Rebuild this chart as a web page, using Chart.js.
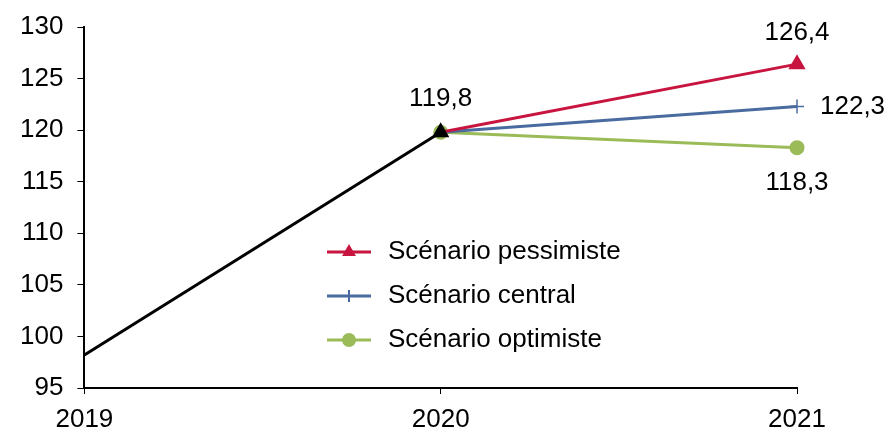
<!DOCTYPE html>
<html>
<head>
<meta charset="utf-8">
<script src="https://cdn.jsdelivr.net/npm/chart.js@4.4.0/dist/chart.umd.min.js"></script>
<style>
  html, body { margin: 0; padding: 0; background: #fff; }
  #wrap { width: 888px; height: 429px; }
</style>
</head>
<body>
<div id="wrap"><canvas id="chart" width="888" height="429"></canvas></div>
<script>
// données
const annees = ['2019', '2020', '2021'];
const historique = [98.2, 119.8, null];
const pessimiste = [null, 119.8, 126.4];
const central = [null, 119.8, 122.3];
const optimiste = [null, 119.8, 118.3];
const etiquettes = ['Scénario pessimiste', 'Scénario central', 'Scénario optimiste'];

const FONT = 'Liberation Sans, Arial, sans-serif';
const FSIZE = 26;
const RED = '#C8153F', BLUE = '#4A6BA0', GREEN = '#9BBB59';

// étiquettes de valeurs : [dataset, index, dx, dy, align]
const labelPos = [
  [0, 1, 0, -33, 'center'],
  [1, 2, 0, -31, 'center'],
  [2, 2, 23, 0, 'left'],
  [3, 2, 0, 35, 'center'],
];

const valueLabels = {
  id: 'valueLabels',
  afterDatasetsDraw(chart) {
    const ctx = chart.ctx;
    ctx.save();
    ctx.font = FSIZE + 'px ' + FONT;
    ctx.fillStyle = '#000';
    ctx.textBaseline = 'middle';
    for (const [d, i, dx, dy, align] of labelPos) {
      const pt = chart.getDatasetMeta(d).data[i];
      const v = chart.data.datasets[d].data[i];
      ctx.textAlign = align;
      ctx.fillText(String(v).replace('.', ','), pt.x + dx, pt.y + dy);
    }
    ctx.restore();
  }
};

const innerLegend = {
  id: 'innerLegend',
  afterDraw(chart) {
    const ctx = chart.ctx;
    ctx.save();
    ctx.font = FSIZE + 'px ' + FONT;
    ctx.textBaseline = 'middle';
    [1, 2, 3].forEach((d, k) => {
      const ds = chart.data.datasets[d];
      const y = 252 + k * 44;
      ctx.strokeStyle = ds.borderColor;
      ctx.lineWidth = 3;
      ctx.beginPath();
      ctx.moveTo(327, y);
      ctx.lineTo(371, y);
      ctx.stroke();
      ctx.fillStyle = ds.borderColor;
      ctx.strokeStyle = ds.borderColor;
      ctx.lineWidth = 2;
      Chart.helpers.drawPoint(ctx, { pointStyle: ds.pointStyle, radius: 6, borderWidth: 2, rotation: 0 }, 349, y);
      ctx.fillStyle = '#000';
      ctx.textAlign = 'left';
      ctx.fillText(ds.label, 388, y);
    });
    ctx.restore();
  }
};

new Chart(document.getElementById('chart'), {
  type: 'line',
  data: {
    labels: annees,
    datasets: [
      { label: 'Historique', data: historique, borderColor: '#000', backgroundColor: '#000',
        borderWidth: 3, pointStyle: 'triangle', pointRadius: [0, 7, 0], tension: 0 },
      { label: etiquettes[0], data: pessimiste, borderColor: RED, backgroundColor: RED,
        borderWidth: 3, pointStyle: 'triangle', pointRadius: [0, 0, 7], tension: 0 },
      { label: etiquettes[1], data: central, borderColor: BLUE, backgroundColor: BLUE,
        borderWidth: 3, pointStyle: 'cross', pointRadius: [0, 0, 7], pointBorderWidth: 1.5, tension: 0 },
      { label: etiquettes[2], data: optimiste, borderColor: GREEN, backgroundColor: GREEN,
        borderWidth: 3, pointStyle: 'circle', pointRadius: [0, 6, 6], tension: 0 },
    ]
  },
  options: {
    responsive: false,
    animation: false,
    devicePixelRatio: 1,
    layout: { padding: { top: 0, right: 91, left: 6, bottom: 0 } },
    plugins: { legend: { display: false }, tooltip: { enabled: false } },
    scales: {
      x: {
        offset: false,
        afterFit: s => { s.height = 41; },
        grid: { drawOnChartArea: false, drawTicks: true, tickLength: 6, color: '#000' },
        border: { display: true, color: '#000', width: 2 },
        ticks: { color: '#000', font: { family: FONT, size: FSIZE }, padding: 10, maxRotation: 0 }
      },
      y: {
        min: 95, max: 130,
        grid: { drawOnChartArea: false, drawTicks: true, tickLength: 7, color: '#000' },
        border: { display: true, color: '#000', width: 2 },
        ticks: { stepSize: 5, color: '#000', font: { family: FONT, size: FSIZE, lineHeight: 1 }, padding: 14 }
      }
    }
  },
  plugins: [valueLabels, innerLegend]
});
</script>
</body>
</html>
